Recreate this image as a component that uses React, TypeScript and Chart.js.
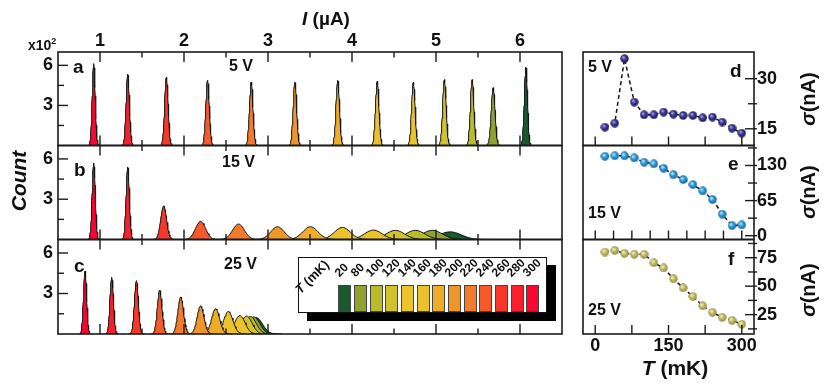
import React, { useEffect, useRef } from 'react';
import { Chart, registerables } from 'chart.js';
Chart.register(...registerables);

const FONT = "'Liberation Sans', Arial, Helvetica, sans-serif";

// temperatures (mK) of the histograms, and their colours
const TEMPS = [20, 80, 100, 120, 140, 160, 180, 200, 220, 240, 260, 280, 300];
const COLORS = ['#185a2e', '#92a22f', '#b9bb2b', '#d2c22e', '#ebc42a', '#ecc22c', '#eeac29', '#f09628', '#f47b2a', '#f55a2b', '#f6372a', '#f7202f', '#fc0530'];

// panel a, 5 V : peak centre (uA), peak count (x100), width sigma (uA)
const A_CENTER = [6.07, 5.68, 5.43, 5.10, 4.73, 4.30, 3.83, 3.32, 2.80, 2.28, 1.79, 1.33, 0.925];
const A_HEIGHT = [5.87, 4.33, 4.93, 4.95, 4.75, 4.8, 4.88, 4.75, 4.75, 4.88, 5.13, 5.33, 6.13];
const A_WIDTH = [0.019, 0.023, 0.021, 0.021, 0.021, 0.021, 0.021, 0.021, 0.021, 0.021, 0.021, 0.02, 0.018];

// panel b, 15 V
const B_CENTER = [5.17, 4.956, 4.754, 4.516, 4.254, 3.886, 3.505, 3.113, 2.649, 2.197, 1.757, 1.33, 0.925];
const B_HEIGHT = [0.57, 0.68, 0.68, 0.68, 0.7, 0.9, 0.95, 0.95, 1.15, 1.35, 2.5, 5.4, 5.7];
const B_WIDTH = [0.13, 0.12, 0.115, 0.11, 0.105, 0.095, 0.09, 0.08, 0.07, 0.06, 0.035, 0.02, 0.019];

// panel c, 25 V
const C_CENTER = [2.86, 2.83, 2.79, 2.745, 2.665, 2.527, 2.376, 2.197, 1.96, 1.71, 1.433, 1.139, 0.822];
const C_HEIGHT = [1.22, 1.27, 1.3, 1.33, 1.37, 1.67, 1.88, 2.08, 2.75, 3.25, 3.95, 4.2, 4.67];
const C_WIDTH = [0.075, 0.072, 0.07, 0.066, 0.062, 0.055, 0.048, 0.041, 0.034, 0.028, 0.024, 0.021, 0.019];

// panels d-f : sigma (nA) vs T (mK)
const T_MK = [20, 40, 60, 80, 100, 120, 140, 160, 180, 200, 220, 240, 260, 280, 300];
const SIG_5V = [15.5, 16.7, 36, 23, 19.2, 19.2, 20, 19.4, 19, 19, 18.3, 18.5, 17, 15.2, 13.7];
const SIG_15V = [147, 148, 148, 144, 136, 133, 125, 113, 104, 94.6, 83, 67, 40, 18.7, 20];
const SIG_25V = [80, 81.4, 78.8, 78, 78, 70.6, 66, 56.5, 48.5, 41, 32.8, 27, 22.6, 20, 16.6];

// axis ticks
const I_LABELS = [1, 2, 3, 4, 5, 6];
const I_MINOR = [1.5, 2.5, 3.5, 4.5, 5.5];
const COUNT_LABELS = [3, 6];
const COUNT_MINOR = [1.5, 4.5];
const T_LABELS = [0, 150, 300];
const T_TICKS = [0, 75, 150, 225, 300];
const T_TICKS_FINE = [0, 37.5, 75, 112.5, 150, 187.5, 225, 262.5, 300];
const D_LABELS = [15, 30];
const D_MINOR = [22.5];
const E_LABELS = [0, 65, 130];
const E_MINOR = [32.5, 97.5, 162.5];
const F_LABELS = [25, 50, 75];
const F_MINOR = [12.5, 37.5, 62.5, 87.5];

const framePlugin = {
  id: 'frame',
  afterDraw(chart: any, _args: any, opts: any) {
    const { ctx, chartArea: a } = chart;
    ctx.save();
    ctx.strokeStyle = '#1b1b1b';
    ctx.lineWidth = 1.4;
    for (const m of opts.marks || []) {
      const sc = chart.scales[m.scale];
      for (const v of m.values) {
        const p = sc.getPixelForValue(v);
        ctx.beginPath();
        if (m.side === 'top') { ctx.moveTo(p, a.top); ctx.lineTo(p, a.top + m.len); }
        if (m.side === 'bottom') { ctx.moveTo(p, a.bottom); ctx.lineTo(p, a.bottom - m.len); }
        if (m.side === 'left') { ctx.moveTo(a.left, p); ctx.lineTo(a.left + m.len, p); }
        if (m.side === 'right') { ctx.moveTo(a.right + (m.out || 0), p); ctx.lineTo(a.right - m.len, p); }
        ctx.stroke();
      }
    }
    ctx.lineWidth = 1.6;
    ctx.strokeRect(a.left, a.top, a.right - a.left, a.bottom - a.top);
    ctx.restore();
  },
};

const tickFont = { family: FONT, size: 18, weight: 'bold' as const };

function shownScale(base: any, values: number[], size: number, horiz: boolean, pad: number) {
  return {
    ...base,
    display: true,
    grid: { display: false, drawTicks: false },
    border: { display: false },
    ticks: { font: tickFont, color: '#111', padding: pad, autoSkip: false, maxRotation: 0 },
    afterBuildTicks: (s: any) => { s.ticks = values.map((v) => ({ value: v })); },
    afterFit: (s: any) => { if (horiz) s.height = size; else s.width = size; },
  };
}

function peakSets(centers: number[], heights: number[], widths: number[]) {
  return TEMPS.map((t, i) => {
    const c = centers[i], h = heights[i], w = widths[i];
    const pts: { x: number; y: number }[] = [];
    for (let k = -24; k <= 24; k++) {
      const x = c + (k / 6) * w;
      pts.push({ x, y: h * Math.exp(-0.5 * (x - c) * (x - c) / (w * w)) });
    }
    return {
      label: t + ' mK',
      data: pts,
      order: TEMPS.length - 1 - i,
      fill: 'origin',
      backgroundColor: COLORS[i],
      borderColor: '#141414',
      borderWidth: 1,
      pointRadius: 0,
      tension: 0,
    };
  });
}

function histConfig(centers: number[], heights: number[], widths: number[], top: number, bottom: number, showTop: boolean) {
  const xBase = { type: 'linear', position: 'top', min: 0.5, max: 6.5 };
  return {
    type: 'line',
    data: { datasets: peakSets(centers, heights, widths) },
    plugins: [framePlugin],
    options: {
      responsive: false,
      animation: false,
      events: [],
      layout: { padding: { left: 38, right: 268, top: showTop ? top - 20 : top, bottom } },
      scales: {
        x: showTop ? shownScale(xBase, I_LABELS, 20, true, 0) : { ...xBase, display: false },
        y: shownScale({ type: 'linear', position: 'left', min: 0, max: 7 }, COUNT_LABELS, 20, false, 5),
      },
      plugins: {
        legend: { display: false },
        tooltip: { enabled: false },
        frame: {
          marks: [
            { scale: 'x', side: 'top', values: I_LABELS, len: 10 },
            { scale: 'x', side: 'top', values: I_MINOR, len: 5.5 },
            { scale: 'x', side: 'bottom', values: I_LABELS, len: 10 },
            { scale: 'x', side: 'bottom', values: I_MINOR, len: 5.5 },
            { scale: 'y', side: 'left', values: COUNT_LABELS, len: 10 },
            { scale: 'y', side: 'left', values: COUNT_MINOR, len: 6 },
          ],
        },
      },
    },
  };
}

function makeBall(light: string, base: string, dark: string) {
  const c = document.createElement('canvas');
  c.width = 9; c.height = 9;
  const g = c.getContext('2d')!;
  const grad = g.createRadialGradient(3.2, 3, 0.2, 4.5, 4.5, 4.6);
  grad.addColorStop(0, light);
  grad.addColorStop(0.45, base);
  grad.addColorStop(1, dark);
  g.fillStyle = grad;
  g.beginPath();
  g.arc(4.5, 4.5, 4.2, 0, Math.PI * 2);
  g.fill();
  return c;
}

function sigmaConfig(values: number[], ball: HTMLCanvasElement, ymin: number, ymax: number, labels: number[], minor: number[], tTicks: number[], top: number, bottom: number, showX: boolean) {
  const xBase = { type: 'linear', position: 'bottom', min: -25, max: 325 };
  return {
    type: 'scatter',
    data: {
      datasets: [{
        data: T_MK.map((t, i) => ({ x: t, y: values[i] })),
        showLine: true,
        borderColor: '#111',
        borderWidth: 1.5,
        borderDash: [4, 3],
        pointStyle: ball,
        pointRadius: 4.5,
      }],
    },
    plugins: [framePlugin],
    options: {
      responsive: false,
      animation: false,
      events: [],
      layout: { padding: { left: 583, right: 36, top, bottom: showX ? bottom - 20 : bottom } },
      scales: {
        x: showX ? shownScale(xBase, T_LABELS, 20, true, 1) : { ...xBase, display: false },
        y: shownScale({ type: 'linear', position: 'right', min: ymin, max: ymax }, labels, 40, false, 3),
      },
      plugins: {
        legend: { display: false },
        tooltip: { enabled: false },
        frame: {
          marks: [
            { scale: 'x', side: 'bottom', values: tTicks, len: 9 },
            { scale: 'y', side: 'right', values: labels, len: 9, out: 3 },
            { scale: 'y', side: 'right', values: minor, len: 6, out: 3 },
          ],
        },
      },
    },
  };
}

const txt = (s: number, extra: any = {}) => ({ position: 'absolute' as const, fontFamily: FONT, fontWeight: 'bold' as const, fontSize: s, lineHeight: 1, color: '#111', whiteSpace: 'nowrap' as const, ...extra });

export default function App() {
  const refs = [useRef<HTMLCanvasElement>(null), useRef<HTMLCanvasElement>(null), useRef<HTMLCanvasElement>(null), useRef<HTMLCanvasElement>(null), useRef<HTMLCanvasElement>(null), useRef<HTMLCanvasElement>(null)];

  useEffect(() => {
    const ballD = makeBall('#b4b2ee', '#3b3692', '#17144f');
    const ballE = makeBall('#d6f1ff', '#2c9bda', '#0f5d91');
    const ballF = makeBall('#f7f3d0', '#c4bc66', '#8a833a');
    const configs: any[] = [
      histConfig(A_CENTER, A_HEIGHT, A_WIDTH, 52, 246.5, true),
      histConfig(B_CENTER, B_HEIGHT, B_WIDTH, 145.5, 152.5, false),
      histConfig(C_CENTER, C_HEIGHT, C_WIDTH, 239.5, 58, false),
      sigmaConfig(SIG_5V, ballD, 10, 38, D_LABELS, D_MINOR, T_TICKS, 52, 246.5, false),
      sigmaConfig(SIG_15V, ballE, -7, 167, E_LABELS, E_MINOR, T_TICKS_FINE, 145.5, 152.5, false),
      sigmaConfig(SIG_25V, ballF, 8, 91, F_LABELS, F_MINOR, T_TICKS, 239.5, 58, true),
    ];
    const charts = configs.map((cfg, i) => new Chart(refs[i].current!, cfg));
    return () => charts.forEach((c) => c.destroy());
  }, []);

  const sigmaLabel = (cy: number) => (
    <div style={txt(20, { left: 808, top: cy, transform: 'translate(-50%, -50%) rotate(-90deg)' })}>
      <i>σ</i>(nA)
    </div>
  );

  return (
    <div style={{ position: 'absolute', left: 0, top: 0, width: 830, height: 392, background: '#fff', overflow: 'hidden' }}>
      {refs.map((r, i) => (
        <canvas key={i} ref={r} width={830} height={392} style={{ position: 'absolute', left: 0, top: 0 }} />
      ))}

      {/* axis titles */}
      <div style={txt(19, { left: 326, top: 18, transform: 'translate(-50%, -50%)' })}><i>I</i> (µA)</div>
      <div style={txt(14, { left: 28, top: 37 })}>x10<sup style={{ fontSize: 9 }}>2</sup></div>
      <div style={txt(21, { left: 18, top: 181, fontStyle: 'italic', transform: 'translate(-50%, -50%) rotate(-90deg)' })}>Count</div>
      {sigmaLabel(99)}
      {sigmaLabel(192)}
      {sigmaLabel(290)}
      <div style={txt(21, { left: 675, top: 367, transform: 'translate(-50%, -50%)' })}><i>T</i> (mK)</div>

      {/* panel annotations */}
      <div style={txt(19, { left: 73, top: 57 })}>a</div>
      <div style={txt(16, { left: 229, top: 57.5 })}>5 V</div>
      <div style={txt(19, { left: 74, top: 160 })}>b</div>
      <div style={txt(16, { left: 222, top: 153.5 })}>15 V</div>
      <div style={txt(19, { left: 74, top: 256 })}>c</div>
      <div style={txt(16, { left: 224, top: 255.5 })}>25 V</div>
      <div style={txt(16, { left: 588, top: 58.5 })}>5 V</div>
      <div style={txt(19, { left: 730, top: 61 })}>d</div>
      <div style={txt(16, { left: 588, top: 204.5 })}>15 V</div>
      <div style={txt(19, { left: 728, top: 154 })}>e</div>
      <div style={txt(16, { left: 588, top: 301.5 })}>25 V</div>
      <div style={txt(19, { left: 728, top: 249 })}>f</div>

      {/* temperature legend */}
      <div style={{ position: 'absolute', left: 298, top: 257, width: 249, height: 56, boxSizing: 'border-box', border: '1px solid #111', background: '#fff', boxShadow: '9px 8px 0 #000' }} />
      <div style={txt(13, { left: 302, top: 283, transformOrigin: '0 100%', transform: 'rotate(-45deg)' })}><i>T</i> (mK)</div>
      {TEMPS.map((t, i) => (
        <React.Fragment key={t}>
          <div style={{ position: 'absolute', left: 338.3 + i * 15.67, top: 285, width: 13, height: 27, boxSizing: 'border-box', border: '1px solid #444', background: COLORS[i] }} />
          <div style={txt(12, { left: 341 + i * 15.67, top: 267, transformOrigin: '0 100%', transform: 'rotate(-45deg)' })}>{t}</div>
        </React.Fragment>
      ))}
    </div>
  );
}
